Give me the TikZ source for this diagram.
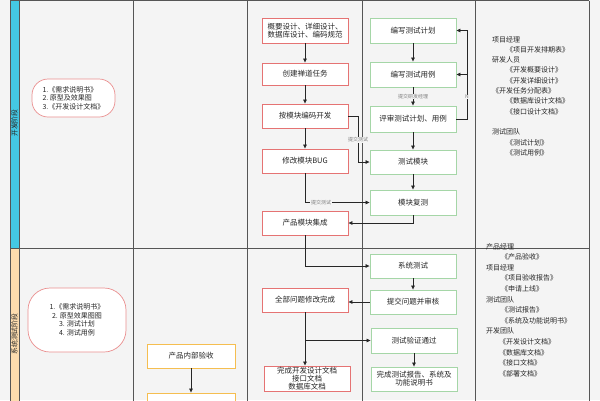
\documentclass[tikz,border=0pt]{standalone}
\usepackage{fontspec}
\setmainfont{Noto Sans CJK SC}
\usetikzlibrary{arrows.meta}
\definecolor{bg}{HTML}{F4F4F4}
\definecolor{lane}{HTML}{555555}
\definecolor{redb}{HTML}{E57373}
\definecolor{greenb}{HTML}{A5D6A7}
\definecolor{orangeb}{HTML}{F5BE50}
\definecolor{txt}{HTML}{262626}
\definecolor{cyanstripe}{HTML}{44C8E4}
\definecolor{peach}{HTML}{FDDCAE}
\begin{document}
\begin{tikzpicture}[x=1pt,y=-1pt,
  box/.style={draw, fill=white, line width=0.9pt, minimum width=86pt, minimum height=24pt, inner sep=1pt, align=center, text=txt, font=\fontsize{7.5}{8}\selectfont},
  redbox/.style={box, draw=redb},
  greenbox/.style={box, draw=greenb},
  orangebox/.style={box, draw=orangeb, minimum width=88pt},
  capsule/.style={draw=redb!80, fill=white, line width=0.7pt, inner sep=0pt, text=txt, font=\fontsize{7}{8.5}\selectfont},
  conn/.style={draw=txt, line width=0.7pt, -{Triangle[length=4pt,width=3.6pt]}},
  lbl/.style={fill=bg, text=gray, font=\fontsize{5}{6}\selectfont, inner sep=0.6pt},
  lanel/.style={draw=lane, line width=1pt},
  stagel/.style={rotate=90, text=txt, font=\fontsize{6.8}{7}\selectfont, inner sep=0pt},
  rtxt/.style={anchor=north west, align=left, text=txt, inner sep=0pt},
]
\fill[bg] (0,0) rectangle (600,400);
\useasboundingbox (0,0) rectangle (600,400);

% stripes and lanes
\filldraw[fill=cyanstripe, draw=lane, line width=1pt] (10,0.5) rectangle (19,248);
\filldraw[fill=peach, draw=lane, line width=1pt] (10,248) rectangle (19,404);
\draw[lanel] (10,0.5) -- (589,0.5);
\draw[lanel] (10,248) -- (589,248);
\foreach \x in {133,247.5,362,475,589} \draw[lanel] (\x,0.5) -- (\x,404);

\node[stagel] (stage1) at (14.5,123) {开发阶段};
\node[stagel] (stage2) at (14.5,334) {系统测试阶段};

% column 1
\node[capsule, rounded corners=16pt, minimum width=83pt, minimum height=38pt, align=left] (c1) at (73.5,98) {1.《需求说明书》\\2.\ 原型及效果图\\3.《开发设计文档》};
\node[capsule, rounded corners=22pt, minimum width=98pt, minimum height=64pt, align=center] (c2) at (77,320) {1.《需求说明书》\\2. 原型效果图图\\3. 测试计划\\4. 测试用例};

% column 2
\node[orangebox] (o1) at (191,356) {产品内部验收};
\node[orangebox] (o2) at (191,405) {};
\draw[conn] (o1) -- (o2);

% column 3
\node[redbox, minimum height=25pt] (b1) at (305,30.5) {概要设计、详细设计、\\数据库设计、编码规范};
\node[redbox, minimum height=22pt] (b2) at (305,74) {创建禅道任务};
\node[redbox] (b3) at (305,116) {按模块编码开发};
\node[redbox] (b4) at (305,161) {修改模块BUG};
\node[redbox] (b5) at (305,223) {产品模块集成};
\node[redbox] (b6) at (305,300) {全部问题修改完成};
\node[redbox, minimum height=25pt] (b7) at (307,378.5) {完成开发设计文档\\接口文档\\数据库文档};

% column 4
\node[greenbox, minimum height=25pt] (g1) at (413,30.5) {编写测试计划};
\node[greenbox, minimum height=25pt] (g2) at (413,74.5) {编写测试用例};
\node[greenbox, minimum height=26pt] (g3) at (413,119) {评审测试计划、用例};
\node[greenbox] (g4) at (413,162) {测试模块};
\node[greenbox, minimum height=25pt] (g5) at (413,202.5) {模块复测};
\node[greenbox] (g6) at (413,266) {系统测试};
\node[greenbox] (g7) at (413,302) {提交问题并审核};
\node[greenbox, minimum height=25pt] (g8) at (414,340.5) {测试验证通过};
\node[greenbox] (g9) at (414,379) {完成测试报告、系统及\\功能说明书};

% connectors column 3
\draw[conn] (b1) -- (b2);
\draw[conn] (b2) -- (b3);
\draw[conn] (b3) -- (b4);
\draw[conn] (b4.south) |- (g5.west);
\node[lbl] (l1) at (321,202.5) {提交测试};
\draw[conn] (b3.east) -- ++(10,0) coordinate (k1) |- (g4.west);
\node[lbl] (l2) at (358,140) {提交测试};

% connectors column 4
\draw[conn] (g1) -- (g2);
\draw[conn] (g2) -- node[lbl] (l3) {提交研发经理} (g3);
\draw[conn] (g3.east) -- ++(11,0) coordinate (nr) |- (g1.east);
\draw[conn] (nr |- g2.east) -- (g2.east);
\node[lbl] (ln) at (467,97) {N};
\draw[conn] (g3) -- (g4);
\draw[conn] (g4) -- (g5);
\draw[conn] (g5.south) |- (b5.east);
\draw[conn] (b5.south) |- (g6.west);
\draw[conn] (g6) -- (g7);
\draw[conn] (g7.west) -- (g7.west -| b6.east);
\draw[conn] (b6.south) -- (b6.south |- b7.north);
\coordinate (br) at (b6.south |- g8.west);
\draw[conn] (br) -- (g8.west);
\draw[conn] (g8) -- (g9);

% column 5
\node[rtxt, font=\fontsize{7}{10.3}\selectfont] (r1) at (492,36) {项目经理\\\hspace*{14pt}《项目开发排期表》\\研发人员\\\hspace*{14pt}《开发概要设计》\\\hspace*{14pt}《开发详细设计》\\《开发任务分配表》\\\hspace*{14pt}《数据库设计文档》\\\hspace*{14pt}《接口设计文档》\\[10.3pt]测试团队\\\hspace*{14pt}《测试计划》\\\hspace*{14pt}《测试用例》};
\node[rtxt, font=\fontsize{7}{10.6}\selectfont] (r2) at (486,243) {产品经理\\\hspace*{15pt}《产品验收》\\项目经理\\\hspace*{15pt}《项目验收报告》\\\hspace*{15pt}《申请上线》\\测试团队\\\hspace*{15pt}《测试报告》\\\hspace*{15pt}《系统及功能说明书》\\开发团队\\\hspace*{13pt}《开发设计文档》\\\hspace*{13pt}《数据库文档》\\\hspace*{13pt}《接口文档》\\\hspace*{13pt}《部署文档》};
\end{tikzpicture}
\end{document}
